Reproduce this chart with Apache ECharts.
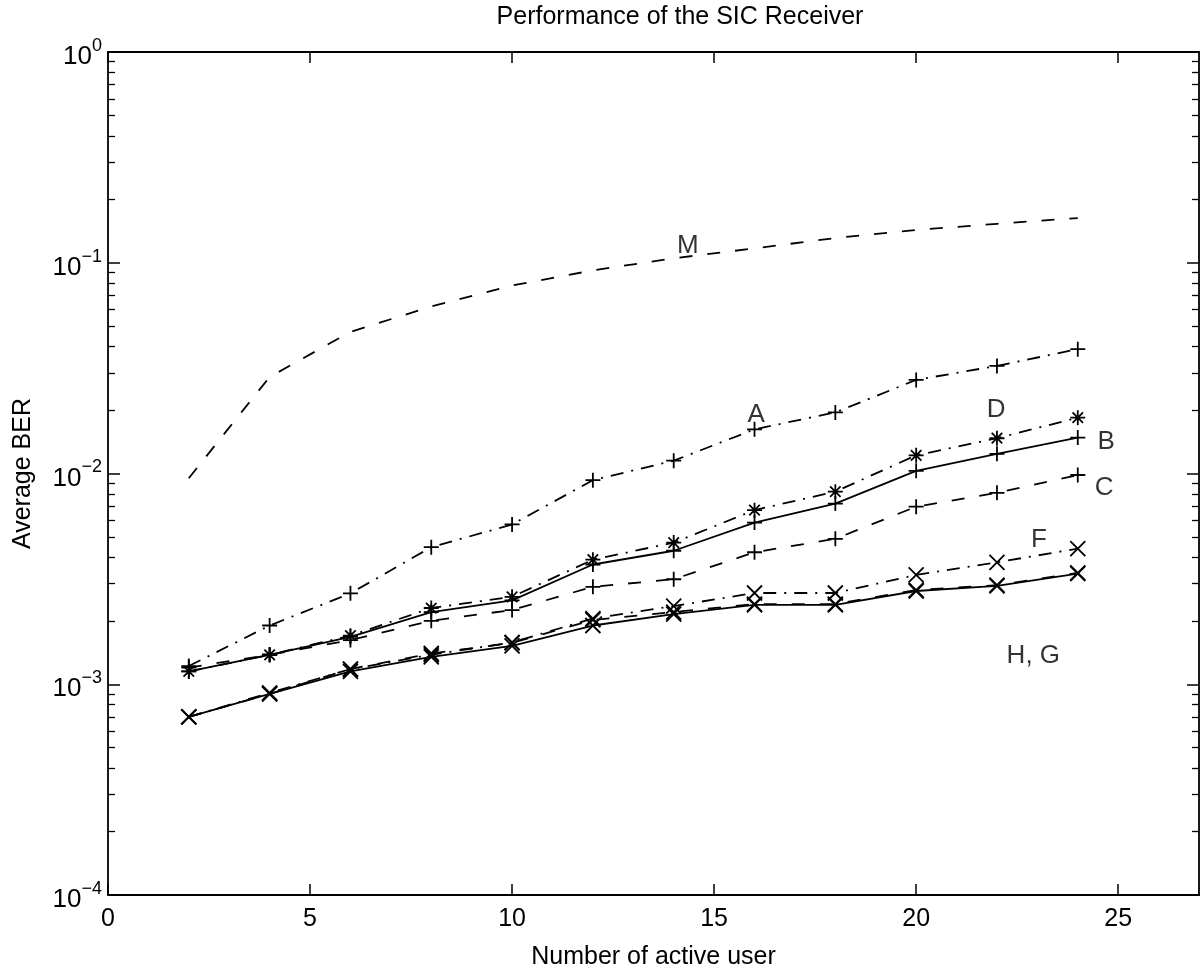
<!DOCTYPE html>
<html>
<head>
<meta charset="utf-8">
<script src="https://cdn.jsdelivr.net/npm/echarts@6/dist/echarts.min.js"></script>
<style>html,body{margin:0;padding:0;background:#fff;}#chart{width:1201px;height:975px;}</style>
</head>
<body>
<div id="chart"></div>
<script>
const users = [2, 4, 6, 8, 10, 12, 14, 16, 18, 20, 22, 24];
const serM = [0.0095, 0.0287, 0.047, 0.062, 0.078, 0.092, 0.105, 0.117, 0.131, 0.143, 0.153, 0.163];
const serA = [0.00122, 0.0019, 0.0027, 0.00447, 0.00573, 0.0093, 0.0115, 0.0162, 0.0195, 0.0278, 0.0324, 0.0389];
const serB = [0.00115, 0.00138, 0.00168, 0.0022, 0.0025, 0.0037, 0.0043, 0.00585, 0.0072, 0.0103, 0.0124, 0.0148];
const serC = [0.0012, 0.00138, 0.00162, 0.002, 0.00225, 0.0029, 0.00315, 0.00423, 0.0049, 0.00696, 0.0081, 0.00984];
const serD = [0.00115, 0.00138, 0.0017, 0.0023, 0.0026, 0.0039, 0.0047, 0.0067, 0.0082, 0.0122, 0.0147, 0.0184];
const serF = [0.0007, 0.00091, 0.00118, 0.00138, 0.00158, 0.00205, 0.00235, 0.00271, 0.00271, 0.0033, 0.00379, 0.0044];
const serG = [0.0007, 0.0009, 0.00118, 0.0014, 0.00157, 0.00202, 0.0022, 0.0024, 0.0024, 0.0028, 0.00295, 0.00338];
const serH = [0.0007, 0.0009, 0.00115, 0.00135, 0.00152, 0.0019, 0.00215, 0.00238, 0.00238, 0.00277, 0.00293, 0.00335];
const curveLabels = [
  [14.35, 0.12, 'M'],
  [16.04, 0.019, 'A'],
  [21.98, 0.0201, 'D'],
  [24.7, 0.0142, 'B'],
  [24.65, 0.00855, 'C'],
  [23.04, 0.00482, 'F'],
  [22.9, 0.00136, 'H, G']
];
const xTicks = [0, 5, 10, 15, 20, 25];
const yMajor = [1e-4, 1e-3, 1e-2, 1e-1, 1];
const yMinor = [];
for (let e = -4; e < 0; e++) for (let m = 2; m <= 9; m++) yMinor.push(+(m * Math.pow(10, e)).toPrecision(3));

const FONT = 'Liberation Sans, Arial, Helvetica, sans-serif';
const PLUS = 'path://M5,0L5,10M0,5L10,5';
const CROSS = 'path://M0,0L10,10M0,10L10,0';
const STAR = 'path://M5,0L5,10M0,5L10,5M1.5,1.5L8.5,8.5M1.5,8.5L8.5,1.5';

function pairs(vals) { return users.map((u, i) => [u, vals[i]]); }
function lineSeries(name, vals, dash, symbol, size) {
  return {
    name, type: 'line', data: pairs(vals), xAxisIndex: 0, yAxisIndex: 0,
    symbol: symbol || 'none', symbolSize: size || 15, showSymbol: !!symbol,
    lineStyle: { color: '#000', width: 1.8, type: dash },
    itemStyle: { color: 'rgba(0,0,0,0)', borderColor: '#000', borderWidth: 1.8 },
    emphasis: { disabled: true }, z: 3, animation: false
  };
}
const DASH = [13, 15];
const DASHDOT = [13, 8, 2, 8];

const chart = echarts.init(document.getElementById('chart'));
const yBase = { type: 'log', logBase: 10, min: 1e-4, max: 1, splitLine: { show: false } };
chart.setOption({
  animation: false,
  backgroundColor: '#fff',
  grid: { left: 108, right: 2, top: 52, bottom: 72 },
  graphic: [{
    type: 'text', x: 680, y: 17,
    style: { text: 'Performance of the SIC Receiver', font: '25px ' + FONT, fill: '#000', textAlign: 'center', textVerticalAlign: 'middle' }
  }],
  xAxis: [
    {
      type: 'value', min: 0, max: 27, position: 'bottom',
      name: 'Number of active user', nameLocation: 'middle', nameGap: 50,
      nameTextStyle: { fontFamily: FONT, fontSize: 25, color: '#000' },
      axisLine: { lineStyle: { color: '#000', width: 1.8 } },
      axisTick: { inside: true, length: 11, customValues: xTicks, lineStyle: { color: '#000', width: 1.5 } },
      axisLabel: { customValues: xTicks, fontFamily: FONT, fontSize: 25, color: '#000', margin: 12 },
      splitLine: { show: false }
    },
    {
      type: 'value', min: 0, max: 27, position: 'top',
      axisLine: { lineStyle: { color: '#000', width: 1.8 } },
      axisTick: { inside: true, length: 11, customValues: xTicks, lineStyle: { color: '#000', width: 1.5 } },
      axisLabel: { show: false }, splitLine: { show: false }
    }
  ],
  yAxis: [
    Object.assign({}, yBase, {
      position: 'left',
      name: 'Average BER', nameLocation: 'middle', nameGap: 72, nameRotate: 90,
      nameTextStyle: { fontFamily: FONT, fontSize: 25, color: '#000' },
      axisLine: { show: true, lineStyle: { color: '#000', width: 1.8 } },
      axisTick: { show: true, inside: true, length: 12, customValues: yMajor, lineStyle: { color: '#000', width: 1.5 } },
      axisLabel: {
        customValues: yMajor, margin: 6,
        formatter: function (v) { const e = Math.round(Math.log10(v)); return '{b|10}{s|' + (e < 0 ? '\u2212' + (-e) : e) + '}'; },
        rich: {
          b: { fontFamily: FONT, fontSize: 26, color: '#000', lineHeight: 30, padding: [10, 0, 0, 0] },
          s: { fontFamily: FONT, fontSize: 18, color: '#000', verticalAlign: 'top', lineHeight: 18 }
        }
      }
    }),
    Object.assign({}, yBase, {
      position: 'left',
      axisLine: { show: false },
      axisTick: { show: true, inside: true, length: 7, customValues: yMinor, lineStyle: { color: '#000', width: 1.3 } },
      axisLabel: { show: false }
    }),
    Object.assign({}, yBase, {
      position: 'right',
      axisLine: { show: true, lineStyle: { color: '#000', width: 1.8 } },
      axisTick: { show: true, inside: true, length: 12, customValues: yMajor, lineStyle: { color: '#000', width: 1.5 } },
      axisLabel: { show: false }
    }),
    Object.assign({}, yBase, {
      position: 'right',
      axisLine: { show: false },
      axisTick: { show: true, inside: true, length: 7, customValues: yMinor, lineStyle: { color: '#000', width: 1.3 } },
      axisLabel: { show: false }
    })
  ],
  series: [
    lineSeries('M', serM, DASH, null),
    lineSeries('A', serA, DASHDOT, PLUS, 15),
    lineSeries('B', serB, 'solid', PLUS, 15),
    lineSeries('C', serC, DASH, PLUS, 15),
    lineSeries('D', serD, DASHDOT, STAR, 15),
    lineSeries('F', serF, DASHDOT, CROSS, 15),
    lineSeries('G', serG, DASH, CROSS, 15),
    lineSeries('H', serH, 'solid', CROSS, 15),
    {
      name: 'labels', type: 'scatter', data: curveLabels, symbolSize: 0, xAxisIndex: 0, yAxisIndex: 0,
      label: { show: true, position: 'inside', formatter: p => p.data[2], fontFamily: FONT, fontSize: 26, color: '#000' },
      emphasis: { disabled: true }, z: 5
    }
  ]
});
</script>
</body>
</html>
